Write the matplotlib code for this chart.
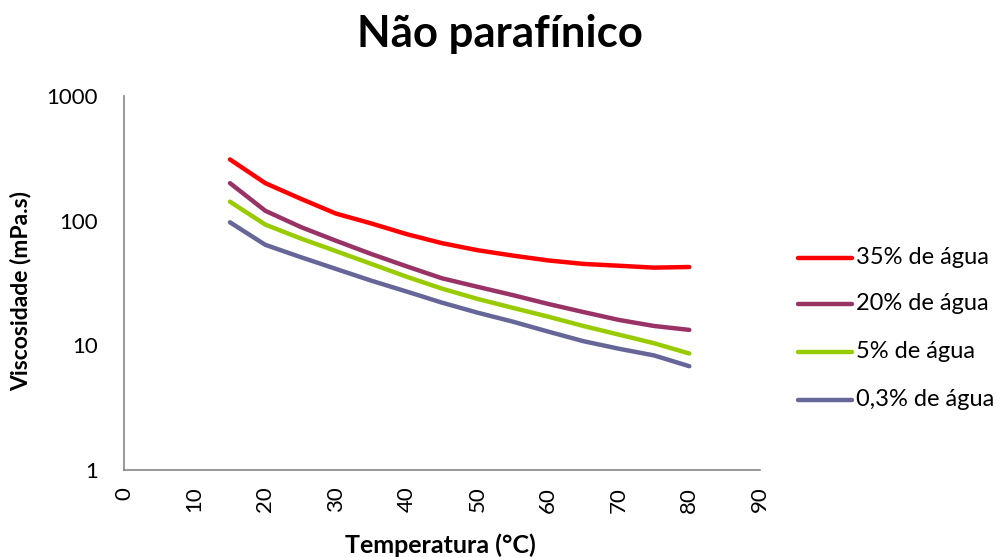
import matplotlib
matplotlib.use("Agg")
import matplotlib.pyplot as plt
from matplotlib.lines import Line2D

temperature = [15, 20, 25, 30, 35, 40, 45, 50, 55, 60, 65, 70, 75, 80]
agua_35 = [310, 200, 150, 114, 95, 78, 66, 58, 52.5, 48, 45, 43.5, 42, 42.5]
agua_20 = [200, 120, 89, 69, 54, 43, 34.5, 29.5, 25.3, 21.5, 18.5, 16, 14.3, 13.3]
agua_5 = [142, 93, 72, 57, 45, 35.5, 28.5, 23.6, 20, 17, 14.3, 12.2, 10.4, 8.6]
agua_03 = [97, 64, 51, 41, 33, 27, 22, 18.3, 15.5, 12.9, 10.8, 9.4, 8.3, 6.8]

series_labels = ["35% de água", "20% de água", "5% de água", "0,3% de água"]
series_values = [agua_35, agua_20, agua_5, agua_03]
series_colors = ["#FF0000", "#993366", "#99CC00", "#666699"]
x_ticks = [0, 10, 20, 30, 40, 50, 60, 70, 80, 90]
y_ticks = [1, 10, 100, 1000]

plt.rcParams['font.family'] = ['Lato', 'DejaVu Sans']

W, H = 1001, 557
fig = plt.figure(figsize=(W / 100, H / 100), dpi=100)
ax = fig.add_axes([124 / W, 1 - 470 / H, 636 / W, 374 / H])

for vals, lab, col in zip(series_values, series_labels, series_colors):
    ax.plot(temperature, vals, color=col, lw=3.2, label=lab,
            solid_capstyle='round', solid_joinstyle='round')

ax.set_yscale('log')
ax.set_xlim(0, 90)
ax.set_ylim(1, 1000)
ax.set_xticks(x_ticks)
ax.set_xticklabels([str(t) for t in x_ticks], rotation=90)
ax.set_yticks(y_ticks)
ax.set_yticklabels([str(t) for t in y_ticks])
ax.minorticks_off()
ax.tick_params(axis='both', length=0, labelsize=16, colors='black')
ax.tick_params(axis='y', pad=19)
ax.tick_params(axis='x', pad=12)
for s in ['top', 'right']:
    ax.spines[s].set_visible(False)
for s in ['left', 'bottom']:
    ax.spines[s].set_color('#868686')
    ax.spines[s].set_linewidth(1.2)

fig.text(440 / W, 1 - 553 / H, "Temperatura (°C)", ha='center', va='baseline',
         fontsize=18, fontweight='bold')
fig.text(21 / W, 1 - 291 / H, "Viscosidade (mPa.s)", ha='center', va='center',
         rotation=90, fontsize=16.5, fontweight='bold')
fig.text(500 / W, 1 - 47 / H, "Não parafínico", ha='center', va='baseline',
         fontsize=31.5, fontweight='bold')

legend_rows = [258, 304, 352, 400]
for yrow, lab, col in zip(legend_rows, series_labels, series_colors):
    fy = 1 - yrow / H
    fig.add_artist(Line2D([798 / W, 852 / W], [fy, fy], color=col, lw=3.2,
                          transform=fig.transFigure, solid_capstyle='round'))
    fig.text(856 / W, fy, lab, ha='left', va='center', fontsize=17)

fig.savefig("out.png", dpi=100)
